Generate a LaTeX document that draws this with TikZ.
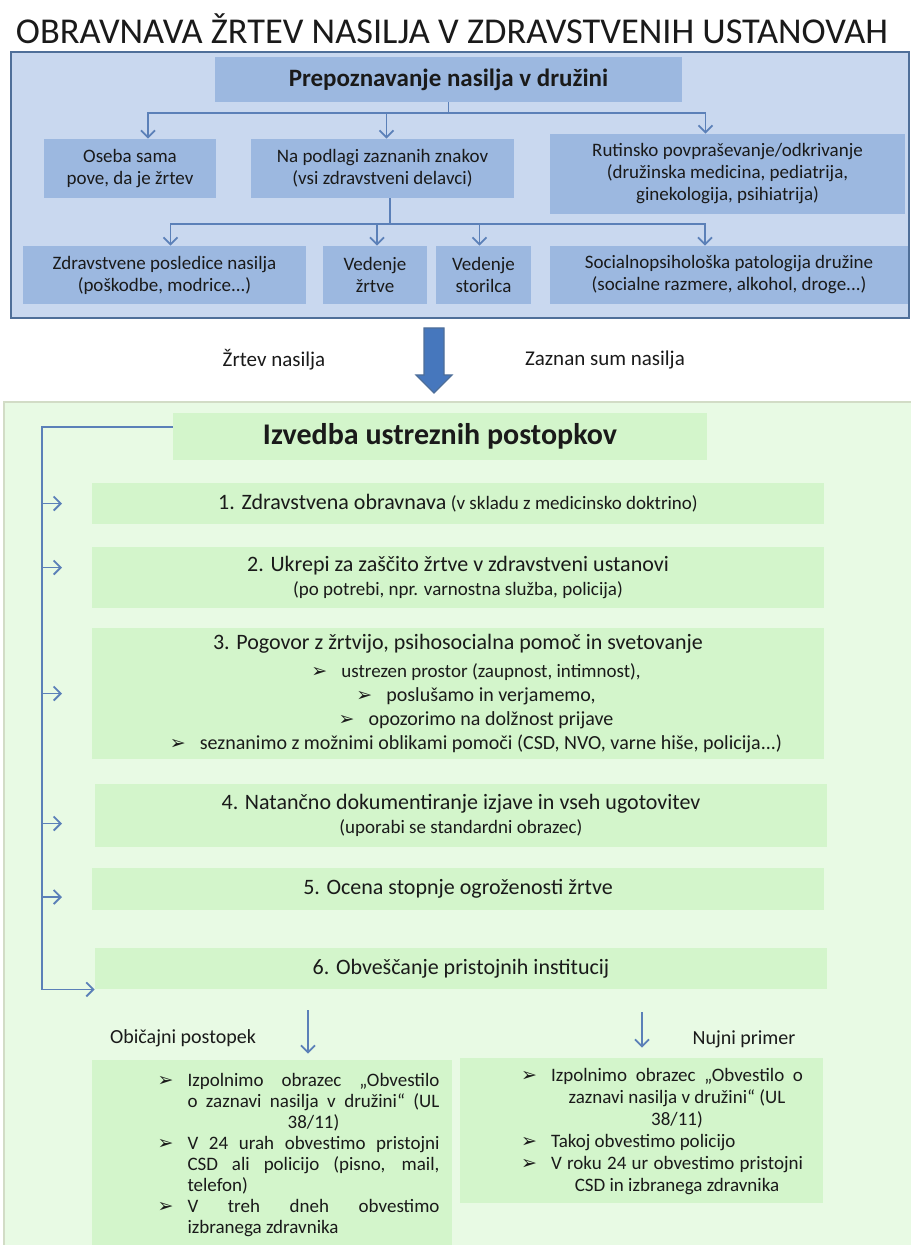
\documentclass[tikz,border=0pt]{standalone}
\usepackage{fontspec}
\setmainfont{Carlito}
\newfontfamily\symfont{DejaVu Sans}
\usetikzlibrary{arrows.meta}
\definecolor{panelblue}{HTML}{C9D8EF}
\definecolor{boxblue}{HTML}{9CB8E0}
\definecolor{edgeblue}{HTML}{4F6F99}
\definecolor{lineblue}{HTML}{5B80B8}
\definecolor{arrowblue}{HTML}{4677BD}
\definecolor{panelgreen}{HTML}{E8FAE4}
\definecolor{boxgreen}{HTML}{D3F5CB}
\definecolor{edgegreen}{HTML}{D2DCC6}
\definecolor{ink}{HTML}{1A1A1A}
\newcommand{\fsmall}{\fontsize{9.5}{11}\selectfont}
\newcommand{\fstep}{\fontsize{11}{12}\selectfont}
\newcommand{\bul}{\makebox[15pt][l]{\symfont\fontsize{9.5}{8}\selectfont ➢}}
\newcommand{\nob}{\makebox[15pt]{}}
\newlength{\colw}
\setlength{\colw}{126pt}
\newcommand{\jst}[1]{\makebox[\colw][s]{#1}}
\newcommand{\cnt}[1]{\makebox[\colw][c]{#1}}
\newcommand{\lft}[1]{\makebox[\colw][l]{#1}}
\tikzstyle{bluebox} = [fill=boxblue, inner sep=1pt, align=center, font=\fsmall]
\tikzstyle{greenbox} = [fill=boxgreen, inner sep=1pt, align=center]
\tikzstyle{line} = [draw=lineblue, line width=0.9pt]
\tikzstyle{arrow} = [line, -{Straight Barb[length=3.5pt,width=7pt]}]

\begin{document}
\begin{tikzpicture}[x=0.5pt, y=-0.5pt, text=ink]
	\useasboundingbox (0,0) rectangle (910,1245);
	\node[font=\fontsize{18.2}{20}\selectfont] (title) at (452,29) {OBRAVNAVA ŽRTEV NASILJA V ZDRAVSTVENIH USTANOVAH};

	\draw[edgeblue, fill=panelblue, line width=1.2pt] (11,52) rectangle (909,318);
	\node[bluebox, minimum width=233.5pt, minimum height=22.5pt, font=\bfseries\fontsize{12.5}{14}\selectfont] (prep) at (448.5,79.5) {Prepoznavanje nasilja v družini};
	\node[bluebox, minimum width=86pt, minimum height=29.5pt] (oseba) at (130,168.5) {Oseba sama\\pove, da je žrtev};
	\node[bluebox, minimum width=131.5pt, minimum height=29.5pt] (podlagi) at (382.5,168.5) {Na podlagi zaznanih znakov\\(vsi zdravstveni delavci)};
	\node[bluebox, minimum width=177.5pt, minimum height=40pt] (rutinsko) at (727.5,174) {Rutinsko povpraševanje/odkrivanje\\(družinska medicina, pediatrija,\\ginekologija, psihiatrija)};
	\node[bluebox, minimum width=141.5pt, minimum height=29pt] (zdrav) at (164.5,275) {Zdravstvene posledice nasilja\\(poškodbe, modrice...)};
	\node[bluebox, minimum width=52pt, minimum height=29pt] (vzrtve) at (375,275) {Vedenje\\žrtve};
	\node[bluebox, minimum width=47.5pt, minimum height=29pt] (vstor) at (483.5,275) {Vedenje\\storilca};
	\node[bluebox, minimum width=179pt, minimum height=29pt] (socio) at (729,275) {Socialnopsihološka patologija družine\\(socialne razmere, alkohol, droge...)};

	\coordinate (bus1) at (448.5,113);
	\draw[line] (prep.south) -- (bus1);
	\foreach \t/\d in {oseba/9pt, podlagi/2pt, rutinsko/-11pt}
		\draw[arrow] (bus1) -| ([xshift=\d]\t.north);
	\coordinate (bus2) at (390,224);
	\draw[line] (bus2 |- podlagi.south) -- (bus2);
	\foreach \t/\d in {zdrav/3pt, vzrtve/1pt, vstor/-2pt, socio/-12pt}
		\draw[arrow] (bus2) -| ([xshift=\d]\t.north);

	\filldraw[fill=arrowblue, draw=edgeblue, line width=0.6pt] (424,328) -- (444,328) -- (444,375) -- (452,375) -- (434,393) -- (416,375) -- (424,375) -- cycle;
	\node[font=\fontsize{10.5}{12}\selectfont] (zrtev) at (274,360) {Žrtev nasilja};
	\node[font=\fontsize{10.5}{12}\selectfont] (sum) at (605,360) {Zaznan sum nasilja};

	\draw[edgegreen, fill=panelgreen, line width=1pt] (4,402) rectangle (915,1250);
	\node[greenbox, minimum width=267pt, minimum height=23.5pt, font=\bfseries\fontsize{15}{17}\selectfont] (izvedba) at (440,436.5) {Izvedba ustreznih postopkov};
	\node[greenbox, minimum width=366pt, minimum height=20.5pt] (s1) at (458,503.5) {{\fstep 1. Zdravstvena obravnava} {\fsmall (v skladu z medicinsko doktrino)}};
	\node[greenbox, minimum width=366pt, minimum height=30.5pt] (s2) at (458,577.5) {{\fstep 2. Ukrepi za zaščito žrtve v zdravstveni ustanovi}\\{\fsmall (po potrebi, npr. varnostna služba, policija)}};
	\node[greenbox, minimum width=366pt, minimum height=65.5pt] (s3) at (458,693.5) {{\fstep 3. Pogovor z žrtvijo, psihosocialna pomoč in svetovanje}\\[2pt]
		\fsmall\hspace*{18pt}\bul ustrezen prostor (zaupnost, intimnost),\\
		\hspace*{18pt}\bul poslušamo in verjamemo,\\
		\hspace*{18pt}\bul opozorimo na dolžnost prijave\\
		\hspace*{18pt}\bul seznanimo z možnimi oblikami pomoči (CSD, NVO, varne hiše, policija...)};
	\node[greenbox, minimum width=366pt, minimum height=31.5pt] (s4) at (461,815.5) {{\fstep 4. Natančno dokumentiranje izjave in vseh ugotovitev}\\{\fsmall (uporabi se standardni obrazec)}};
	\node[greenbox, minimum width=366pt, minimum height=21pt] (s5) at (458,889) {\fstep 5. Ocena stopnje ogroženosti žrtve};
	\node[greenbox, minimum width=366pt, minimum height=20.5pt] (s6) at (461,968.5) {\fstep 6. Obveščanje pristojnih institucij};

	\coordinate (trunk) at (42,0);
	\draw[arrow] ([yshift=4.75pt]izvedba.west) -| (trunk |- s6.south) -- (s6.south west);
	\foreach \s/\d in {s1/0pt, s2/5pt, s3/0pt, s4/-4pt, s5/-4pt}
		\draw[arrow] ([yshift=\d]\s.west -| trunk) -- ++(20,0);

	\node[font=\fontsize{10}{12}\selectfont] (obicajni) at (183,1038) {Običajni postopek};
	\node[font=\fontsize{10}{12}\selectfont] (nujen) at (744,1039) {Nujni primer};
	\node[greenbox, minimum width=180pt, minimum height=95pt] (redni) at (272,1155) {};
	\node[greenbox, minimum width=181.5pt, minimum height=72.5pt] (hitri) at (641.5,1130.5) {};
	\coordinate (o1) at (308,1010);
	\coordinate (o2) at (642,1012);
	\draw[arrow, shorten >=3pt] (o1) -- (o1 |- redni.north);
	\draw[arrow, shorten >=5pt] (o2) -- (o2 |- hitri.north);
	\node[align=left, inner sep=0pt, font=\fontsize{9.5}{10.5}\selectfont] (reditxt) at (298.5,1155) {%
		\bul\jst{Izpolnimo obrazec „Obvestilo}\\
		\nob\jst{o zaznavi nasilja v družini“ (UL}\\
		\nob\cnt{38/11)}\\
		\bul\jst{V 24 urah obvestimo pristojni}\\
		\nob\jst{CSD ali policijo (pisno, mail,}\\
		\nob\lft{telefon)}\\
		\bul\jst{V treh dneh obvestimo}\\
		\nob\lft{izbranega zdravnika}};
	\node[align=left, inner sep=0pt, font=\fontsize{9.5}{11}\selectfont] (hitritxt) at (662,1132) {%
		\bul\jst{Izpolnimo obrazec „Obvestilo o}\\
		\nob\cnt{zaznavi nasilja v družini“ (UL}\\
		\nob\cnt{38/11)}\\
		\bul\lft{Takoj obvestimo policijo}\\
		\bul\jst{V roku 24 ur obvestimo pristojni}\\
		\nob\cnt{CSD in izbranega zdravnika}};
\end{tikzpicture}
\end{document}
